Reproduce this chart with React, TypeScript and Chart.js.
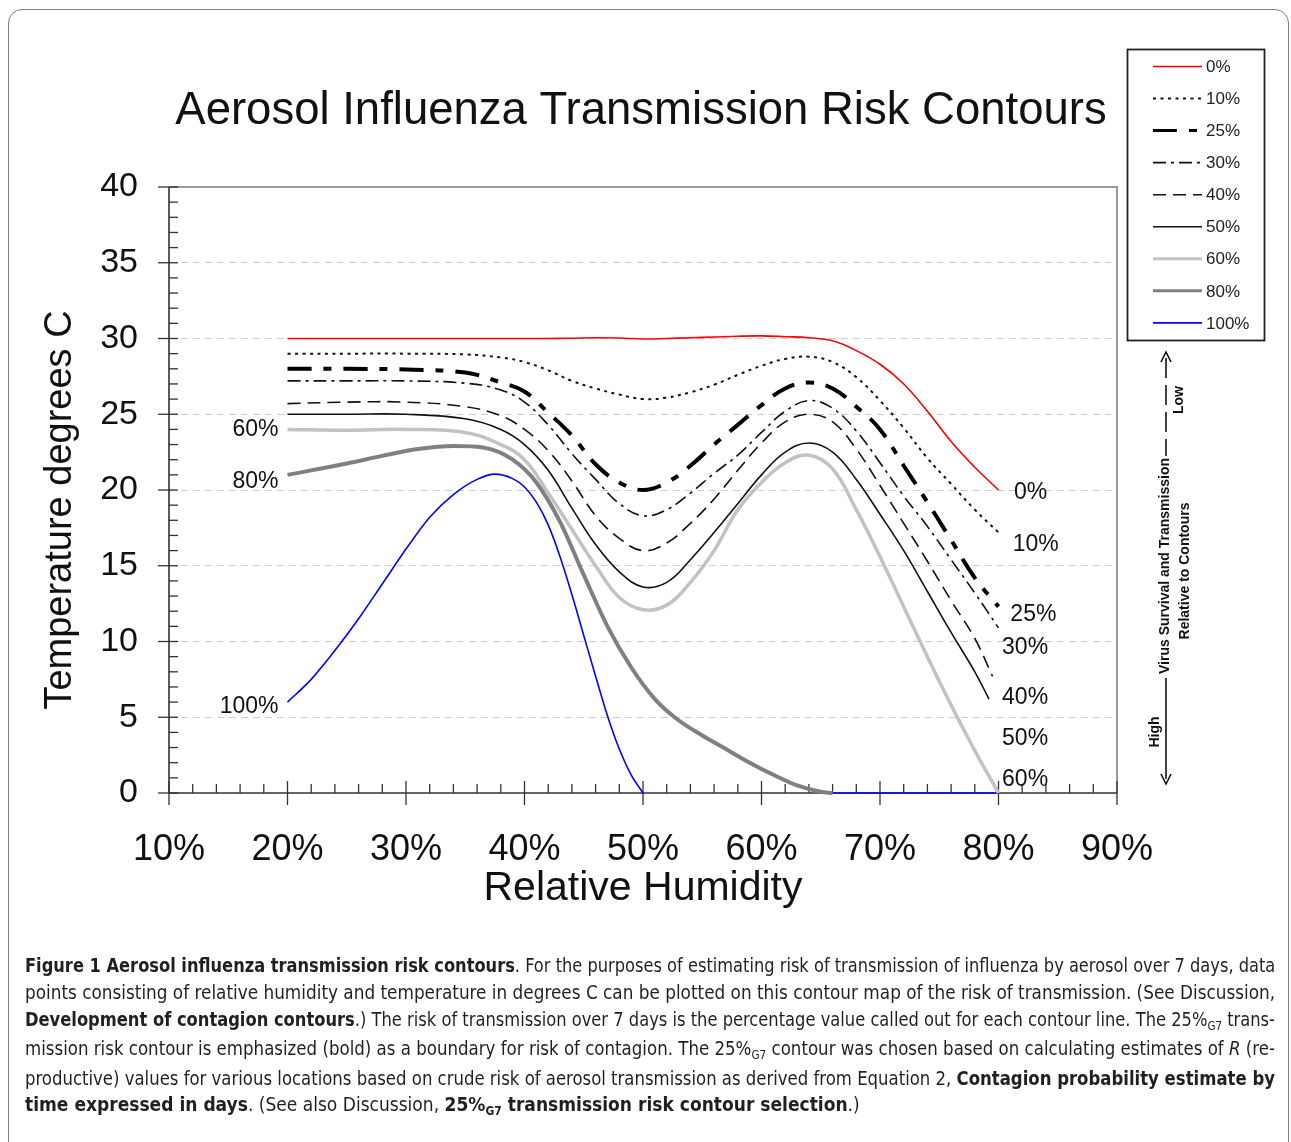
import React, { useEffect, useRef } from 'react';
import { Chart, registerables } from 'chart.js';

Chart.register(...registerables);

// ---------- data ----------
const TITLE = 'Aerosol Influenza Transmission Risk Contours';
const X_TITLE = 'Relative Humidity';
const Y_TITLE = 'Temperature degrees C';

const RH_GRID = [20, 25, 30, 35, 38, 40, 42, 44, 46, 48, 50, 52, 54, 56, 58, 60, 62, 64, 66, 68, 70, 72, 74, 76, 78, 80];
const RH_40 = [20, 25, 30, 35, 38, 40, 42, 44, 46, 48, 50, 52, 54, 56, 58, 60, 62, 64, 66, 68, 70, 72, 74, 76, 78, 79.5];
const RH_50 = [20, 25, 30, 35, 38, 40, 42, 44, 46, 48, 50, 52, 54, 56, 58, 60, 62, 64, 66, 68, 70, 72, 74, 76, 78, 79.2];
const RH_80 = [20, 25, 28, 31, 34, 36.5, 39, 41, 43, 45, 47, 49, 51, 53, 55, 57, 59, 61, 63, 65, 66];
const RH_100 = [20, 22, 24, 26, 28, 30, 32, 34, 36, 37.5, 39, 40, 41, 42, 43, 44, 45, 46, 47, 48, 49, 50, 57, 66, 80];

const T_0 = [30, 30, 30, 30, 30, 30, 30, 30.02, 30.05, 30.03, 29.97, 30, 30.05, 30.1, 30.15, 30.17, 30.12, 30.05, 29.85, 29.2, 28.3, 27.0, 25.2, 23.2, 21.5, 20.0];
const T_10 = [29, 29, 29, 28.95, 28.75, 28.45, 27.9, 27.2, 26.7, 26.3, 26.0, 26.1, 26.45, 26.95, 27.6, 28.2, 28.65, 28.8, 28.45, 27.45, 25.9, 24.1, 22.1, 20.4, 18.7, 17.2];
const T_25 = [28, 28, 27.95, 27.75, 27.1, 26.5, 25.1, 23.6, 21.7, 20.5, 20.0, 20.5, 21.6, 23.0, 24.3, 25.6, 26.7, 27.1, 26.7, 25.5, 24.0, 21.6, 19.2, 16.7, 14.2, 12.3];
const T_30 = [27.2, 27.2, 27.2, 27.05, 26.6, 25.8, 24.3, 22.4, 20.7, 19.1, 18.3, 18.7, 19.8, 21.1, 22.3, 23.8, 25.2, 25.9, 25.4, 23.9, 21.8, 19.6, 17.6, 15.4, 13.2, 10.9];
const T_40 = [25.7, 25.8, 25.8, 25.5, 24.9, 24.0, 22.6, 20.6, 18.3, 16.8, 16.0, 16.5, 17.8, 19.4, 21.3, 23.1, 24.5, 25.0, 24.5, 22.7, 20.3, 17.8, 15.3, 12.7, 10.2, 7.7];
const T_50 = [25, 25, 25, 24.7, 24.0, 23.0, 21.3, 18.8, 16.4, 14.6, 13.6, 13.9, 15.4, 17.2, 19.1, 21.0, 22.5, 23.1, 22.5, 20.7, 18.4, 16.0, 13.3, 10.6, 8.0, 6.2];
const T_60 = [24, 23.95, 24, 23.8, 23.0, 22.0, 19.8, 17.4, 15.0, 12.9, 12.1, 12.4, 13.9, 16.0, 18.7, 20.5, 21.8, 22.3, 21.4, 18.7, 15.6, 12.3, 9.0, 5.8, 2.8, 0];
const T_80 = [21.0, 21.75, 22.25, 22.7, 22.9, 22.8, 22.0, 20.5, 17.9, 14.4, 11.0, 8.3, 6.2, 4.8, 3.8, 2.9, 2.0, 1.2, 0.5, 0.08, 0];
const T_100 = [6.0, 7.5, 9.4, 11.5, 13.8, 16.1, 18.2, 19.7, 20.7, 21.05, 20.75, 20.2, 19.2, 17.7, 15.6, 13.1, 10.4, 7.7, 5.1, 2.9, 1.2, 0, null, 0, 0];

const SERIES_LABELS = ['0%', '10%', '25%', '30%', '40%', '50%', '60%', '80%', '100%'];

// contour call-out labels (text, anchor humidity, anchor temperature)
const LEFT_LABELS = ['60%', '80%', '100%'];
const LEFT_LABEL_T = [24, 20.55, 5.7];
const RIGHT_LABELS = ['0%', '10%', '25%', '30%', '40%', '50%', '60%'];
const RIGHT_LABEL_RH = [81.3, 81.2, 81.0, 80.3, 80.3, 80.3, 80.3];
const RIGHT_LABEL_T = [19.8, 16.4, 11.75, 9.6, 6.3, 3.6, 0.9];

const FONT = '"Liberation Sans", Arial, Helvetica, sans-serif';

const pts = (xs: number[], ys: (number | null)[]) => xs.map((x, i) => ({ x, y: ys[i] }));

const STYLES = [
  { color: '#ff0000', width: 1.6, dash: [], mode: 'default' },
  { color: '#111111', width: 2, dash: [3, 4.5], mode: 'default' },
  { color: '#000000', width: 4, dash: [24, 12, 8, 12], mode: 'default' },
  { color: '#111111', width: 1.6, dash: [13, 5, 3, 5], mode: 'default' },
  { color: '#111111', width: 1.6, dash: [13, 7], mode: 'default' },
  { color: '#111111', width: 1.6, dash: [], mode: 'default' },
  { color: '#c2c2c2', width: 3.5, dash: [], mode: 'default' },
  { color: '#808080', width: 4, dash: [], mode: 'monotone' },
  { color: '#0000ff', width: 1.6, dash: [], mode: 'monotone' },
];

const SERIES_DATA = [
  pts(RH_GRID, T_0),
  pts(RH_GRID, T_10),
  pts(RH_GRID, T_25),
  pts(RH_GRID, T_30),
  pts(RH_40, T_40),
  pts(RH_50, T_50),
  pts(RH_GRID, T_60),
  pts(RH_80, T_80),
  pts(RH_100, T_100),
];

const decorPlugin = {
  id: 'decor',
  beforeDatasetsDraw(chart: any) {
    const { ctx, chartArea: a, scales } = chart;
    const x = scales.x;
    const y = scales.y;
    ctx.save();
    // frame (top + right)
    ctx.strokeStyle = '#9a9a9a';
    ctx.lineWidth = 2;
    ctx.beginPath();
    ctx.moveTo(a.left, a.top);
    ctx.lineTo(a.right, a.top);
    ctx.lineTo(a.right, a.bottom);
    ctx.stroke();
    // axes
    ctx.strokeStyle = '#333333';
    ctx.lineWidth = 1.6;
    ctx.beginPath();
    ctx.moveTo(a.left, a.top);
    ctx.lineTo(a.left, a.bottom);
    ctx.lineTo(a.right, a.bottom);
    ctx.stroke();
    // tick marks
    ctx.lineWidth = 1.3;
    y.ticks.forEach((t: any) => {
      const py = y.getPixelForValue(t.value);
      ctx.beginPath();
      ctx.moveTo(t.value % 5 === 0 ? a.left - 11 : a.left, py);
      ctx.lineTo(a.left + 9, py);
      ctx.stroke();
    });
    x.ticks.forEach((t: any) => {
      const px = x.getPixelForValue(t.value);
      ctx.beginPath();
      if (t.value % 10 === 0) {
        ctx.moveTo(px, a.bottom - 12);
        ctx.lineTo(px, a.bottom + 12);
      } else {
        ctx.moveTo(px, a.bottom - 9);
        ctx.lineTo(px, a.bottom);
      }
      ctx.stroke();
    });
    ctx.restore();
  },
  afterDraw(chart: any) {
    const { ctx, scales } = chart;
    const x = scales.x;
    const y = scales.y;
    ctx.save();
    ctx.fillStyle = '#111111';
    // title
    ctx.font = `45.5px ${FONT}`;
    ctx.textAlign = 'center';
    ctx.textBaseline = 'middle';
    ctx.fillText(TITLE, 641, 111);
    // x title
    ctx.font = `41px ${FONT}`;
    ctx.fillText(X_TITLE, 643, 889);
    // y title
    ctx.save();
    ctx.translate(61, 510);
    ctx.rotate(-Math.PI / 2);
    ctx.font = `38px ${FONT}`;
    ctx.fillText(Y_TITLE, 0, 0);
    ctx.restore();

    // contour labels
    ctx.font = `23px ${FONT}`;
    ctx.textAlign = 'right';
    LEFT_LABELS.forEach((s, i) => {
      ctx.fillText(s, x.getPixelForValue(20) - 9, y.getPixelForValue(LEFT_LABEL_T[i]));
    });
    ctx.textAlign = 'left';
    RIGHT_LABELS.forEach((s, i) => {
      ctx.fillText(s, x.getPixelForValue(RIGHT_LABEL_RH[i]), y.getPixelForValue(RIGHT_LABEL_T[i]));
    });

    // legend
    const lx = 1127.5, ly = 49.5, lw = 137, lh = 291;
    ctx.fillStyle = '#ffffff';
    ctx.fillRect(lx, ly, lw, lh);
    ctx.strokeStyle = '#222222';
    ctx.lineWidth = 1.8;
    ctx.strokeRect(lx, ly, lw, lh);
    ctx.font = `17px ${FONT}`;
    ctx.textAlign = 'left';
    ctx.textBaseline = 'middle';
    chart.data.datasets.forEach((ds: any, i: number) => {
      const cy = 66.5 + i * 32.05;
      ctx.save();
      ctx.strokeStyle = ds.borderColor;
      ctx.lineWidth = Math.min(ds.borderWidth, 3);
      ctx.setLineDash(ds.borderDash || []);
      ctx.beginPath();
      ctx.moveTo(1153, cy);
      ctx.lineTo(1202, cy);
      ctx.stroke();
      ctx.restore();
      ctx.fillStyle = '#222222';
      ctx.fillText(ds.label, 1206, cy + 1);
    });

    // side annotation arrow
    const ax = 1166;
    ctx.strokeStyle = '#111111';
    ctx.fillStyle = '#111111';
    ctx.lineWidth = 1.6;
    ctx.save();
    ctx.setLineDash([20, 7]);
    ctx.beginPath();
    ctx.moveTo(ax, 358);
    ctx.lineTo(ax, 456);
    ctx.stroke();
    ctx.restore();
    ctx.beginPath();
    ctx.moveTo(ax, 678);
    ctx.lineTo(ax, 779);
    ctx.stroke();
    ctx.beginPath();
    ctx.moveTo(ax - 5, 362);
    ctx.lineTo(ax, 352);
    ctx.lineTo(ax + 5, 362);
    ctx.stroke();
    ctx.beginPath();
    ctx.moveTo(ax - 5, 774);
    ctx.lineTo(ax, 784);
    ctx.lineTo(ax + 5, 774);
    ctx.stroke();
    const rot = (s: string, cx: number, cy: number, font: string) => {
      ctx.save();
      ctx.translate(cx, cy);
      ctx.rotate(-Math.PI / 2);
      ctx.font = font;
      ctx.textAlign = 'center';
      ctx.textBaseline = 'middle';
      ctx.fillText(s, 0, 0);
      ctx.restore();
    };
    rot('Virus Survival and Transmission', 1165, 566, `bold 14px ${FONT}`);
    rot('Relative to Contours', 1185, 571, `bold 14px ${FONT}`);
    rot('Low', 1179, 400, `bold 14px ${FONT}`);
    rot('High', 1155, 732, `bold 14px ${FONT}`);
    ctx.restore();
  },
};

const CAPTION_TOPS = [952, 979, 1006, 1035, 1065, 1091];

export default function App() {
  const canvasRef = useRef<HTMLCanvasElement | null>(null);
  const capRef = useRef<HTMLDivElement | null>(null);

  useEffect(() => {
    const canvas = canvasRef.current;
    if (!canvas) return;
    const chart = new Chart(canvas, {
      type: 'line',
      data: {
        datasets: SERIES_DATA.map((d, i) => ({
          label: SERIES_LABELS[i],
          data: d,
          borderColor: STYLES[i].color,
          borderWidth: STYLES[i].width,
          borderDash: STYLES[i].dash,
          pointRadius: 0,
          fill: false,
          spanGaps: false,
          clip: false,
          tension: 0.4,
          cubicInterpolationMode: STYLES[i].mode,
        })),
      },
      options: {
        responsive: false,
        animation: false,
        events: [],
        layout: { padding: { left: 0, right: 174, top: 187, bottom: 57 } },
        plugins: {
          legend: { display: false },
          title: { display: false },
          tooltip: { enabled: false },
        },
        scales: {
          x: {
            type: 'linear',
            min: 10,
            max: 90,
            afterFit: (s: any) => { s.height = 100; },
            ticks: {
              stepSize: 2,
              autoSkip: false,
              maxRotation: 0,
              padding: 27,
              color: '#111111',
              font: { size: 36, family: FONT },
              callback: (v: any) => (v % 10 === 0 ? `${v}%` : ''),
            },
            grid: { display: false },
            border: { display: false },
          },
          y: {
            type: 'linear',
            min: 0,
            max: 40,
            afterFit: (s: any) => { s.width = 169; },
            ticks: {
              stepSize: 1,
              autoSkip: false,
              padding: 31,
              color: '#111111',
              font: { size: 34, family: FONT },
              callback: (v: any) => (v % 5 === 0 ? String(v) : ''),
            },
            grid: {
              drawTicks: false,
              lineWidth: 1,
              color: (c: any) => {
                const v = c.tick ? c.tick.value : -1;
                return v % 5 === 0 && v > 0 && v < 40 ? '#cccccc' : 'rgba(0,0,0,0)';
              },
            },
            border: { display: false, dash: [7, 5] },
          },
        },
      },
      plugins: [decorPlugin],
    } as any);

    // fit caption lines to width
    const box = capRef.current;
    if (box) {
      box.querySelectorAll('[data-fit]').forEach((el: any) => {
        const w = el.scrollWidth;
        if (w > 1251) {
          el.style.transformOrigin = 'left center';
          el.style.transform = `scaleX(${1250 / w})`;
          el.style.width = `${w}px`;
        }
      });
    }
    return () => chart.destroy();
  }, []);

  const capFont = '"Liberation Sans Narrow", "Arial Narrow", "DejaVu Sans Condensed", "Roboto Condensed", "Liberation Sans", sans-serif';
  const lineStyle = (i: number, justify: boolean): React.CSSProperties => ({
    position: 'absolute',
    left: 25,
    top: CAPTION_TOPS[i],
    width: 1250,
    height: 27,
    lineHeight: '27px',
    whiteSpace: 'nowrap',
    textAlign: justify ? 'justify' : 'left',
    textAlignLast: justify ? 'justify' : 'left',
  } as React.CSSProperties);
  const sub: React.CSSProperties = { fontSize: '12px', verticalAlign: '-4px', lineHeight: 0 };

  return (
    <div style={{ position: 'absolute', left: 0, top: 0, width: 1291, height: 1142, overflow: 'hidden', background: '#ffffff' }}>
      <div style={{ position: 'absolute', left: 8, top: 9, width: 1281, height: 1200, border: '1.5px solid #808080', borderRadius: 14, boxSizing: 'border-box' }} />
      <canvas ref={canvasRef} width={1291} height={950} style={{ position: 'absolute', left: 0, top: 0, width: 1291, height: 950, display: 'block' }} />
      <div ref={capRef} style={{ position: 'absolute', left: 0, top: 0, width: 1291, height: 1142, fontFamily: capFont, fontStretch: 'condensed', fontSize: 19, color: '#231f20' }}>
        <div data-fit="1" style={lineStyle(0, true)}><b>Figure 1 Aerosol influenza transmission risk contours</b>. For the purposes of estimating risk of transmission of influenza by aerosol over 7 days, data</div>
        <div data-fit="1" style={lineStyle(1, true)}>points consisting of relative humidity and temperature in degrees C can be plotted on this contour map of the risk of transmission. (See Discussion,</div>
        <div data-fit="1" style={lineStyle(2, true)}><b>Development of contagion contours</b>.) The risk of transmission over 7 days is the percentage value called out for each contour line. The 25%<sub style={sub}>G7</sub> trans-</div>
        <div data-fit="1" style={lineStyle(3, true)}>mission risk contour is emphasized (bold) as a boundary for risk of contagion. The 25%<sub style={sub}>G7</sub> contour was chosen based on calculating estimates of <i>R</i> (re-</div>
        <div data-fit="1" style={lineStyle(4, true)}>productive) values for various locations based on crude risk of aerosol transmission as derived from Equation 2, <b>Contagion probability estimate by</b></div>
        <div style={lineStyle(5, false)}><b>time expressed in days</b>. (See also Discussion, <b>25%<sub style={sub}>G7</sub> transmission risk contour selection</b>.)</div>
      </div>
    </div>
  );
}
